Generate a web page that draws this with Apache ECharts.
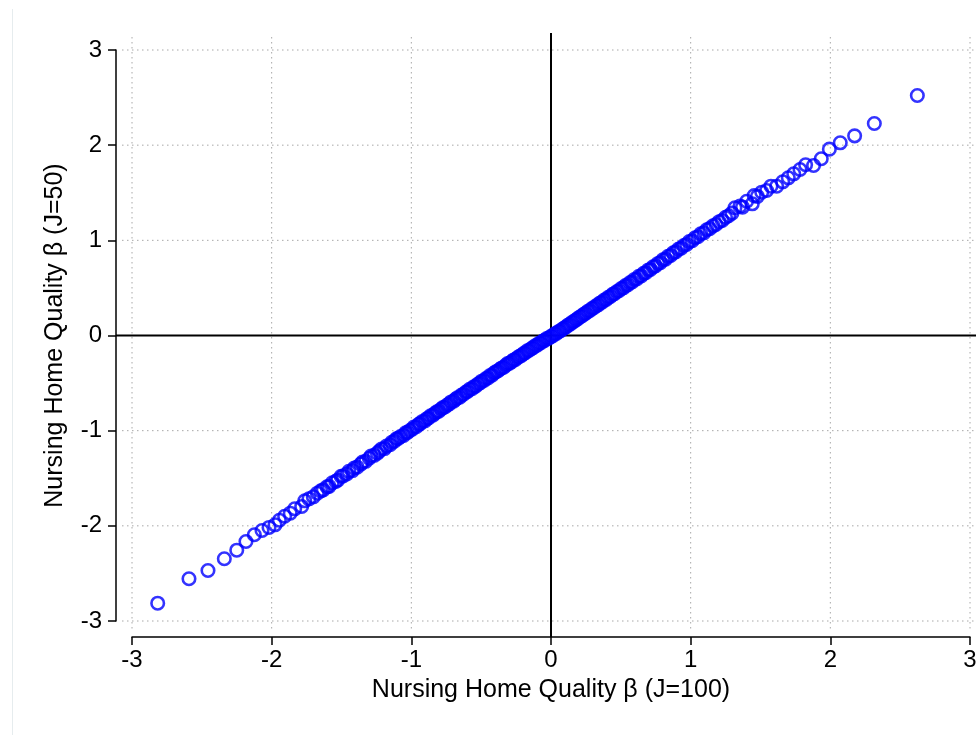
<!DOCTYPE html>
<html>
<head>
<meta charset="utf-8">
<script src="https://cdn.jsdelivr.net/npm/echarts@6/dist/echarts.min.js"></script>
<style>
  html, body { margin: 0; padding: 0; background: #fff; }
  #chart { width: 976px; height: 735px; }
</style>
</head>
<body>
<div id="chart"></div>
<script>
// tick values, same on both axes
var xTicks = [-3, -2, -1, 0, 1, 2, 3]
var yTicks = [-3, -2, -1, 0, 1, 2, 3]

var xTitle = 'Nursing Home Quality β (J=100)'
var yTitle = 'Nursing Home Quality β (J=50)'

// beta estimates: J=100 (x) against J=50 (y)
var lowerTail = [
  [-2.816, -2.813], [-2.592, -2.556], [-2.456, -2.469], [-2.339, -2.346],
  [-2.250, -2.256], [-2.184, -2.165], [-2.124, -2.094], [-2.069, -2.049],
  [-2.019, -2.017], [-1.976, -1.989], [-1.945, -1.941], [-1.907, -1.899],
  [-1.867, -1.867], [-1.835, -1.821], [-1.785, -1.797], [-1.763, -1.737],
  [-1.733, -1.716], [-1.702, -1.695], [-1.673, -1.657]
]

var middle = [
  [-1.648, -1.632], [-1.631, -1.622], [-1.604, -1.590], [-1.589, -1.585],
  [-1.566, -1.548], [-1.541, -1.533], [-1.527, -1.519], [-1.503, -1.480],
  [-1.488, -1.476], [-1.462, -1.455], [-1.447, -1.428], [-1.421, -1.419],
  [-1.409, -1.392], [-1.388, -1.383], [-1.362, -1.351], [-1.349, -1.331],
  [-1.327, -1.322], [-1.301, -1.290], [-1.289, -1.266], [-1.266, -1.259],
  [-1.243, -1.236], [-1.229, -1.215], [-1.214, -1.193], [-1.192, -1.188],
  [-1.178, -1.162], [-1.152, -1.148], [-1.139, -1.121], [-1.121, -1.110],
  [-1.107, -1.086], [-1.094, -1.081], [-1.078, -1.063], [-1.055, -1.049],
  [-1.041, -1.023], [-1.027, -1.018], [-1.011, -0.998], [-0.993, -0.985],
  [-0.982, -0.963], [-0.964, -0.959], [-0.948, -0.934], [-0.937, -0.926],
  [-0.921, -0.903], [-0.903, -0.897], [-0.889, -0.874], [-0.876, -0.866],
  [-0.862, -0.843], [-0.845, -0.836], [-0.830, -0.817], [-0.818, -0.801],
  [-0.803, -0.795], [-0.786, -0.772], [-0.774, -0.757], [-0.759, -0.751],
  [-0.744, -0.731], [-0.728, -0.719], [-0.716, -0.698], [-0.697, -0.690],
  [-0.684, -0.671], [-0.671, -0.655], [-0.653, -0.648], [-0.641, -0.626],
  [-0.626, -0.617], [-0.609, -0.594], [-0.597, -0.588], [-0.583, -0.566],
  [-0.565, -0.559], [-0.552, -0.538], [-0.539, -0.532], [-0.522, -0.509],
  [-0.508, -0.499], [-0.497, -0.480], [-0.479, -0.473], [-0.466, -0.452],
  [-0.451, -0.445], [-0.437, -0.421], [-0.422, -0.418], [-0.408, -0.394],
  [-0.396, -0.382], [-0.381, -0.373], [-0.366, -0.355], [-0.353, -0.341],
  [-0.338, -0.333], [-0.322, -0.312], [-0.311, -0.296], [-0.296, -0.290],
  [-0.281, -0.275], [-0.268, -0.257], [-0.254, -0.251], [-0.239, -0.231],
  [-0.226, -0.219], [-0.211, -0.208], [-0.197, -0.190], [-0.183, -0.181],
  [-0.170, -0.162], [-0.156, -0.155], [-0.141, -0.138], [-0.128, -0.127],
  [-0.114, -0.109], [-0.099, -0.101], [-0.086, -0.083], [-0.072, -0.076],
  [-0.058, -0.058], [-0.045, -0.051], [-0.031, -0.033], [-0.016, -0.027],
  [-0.003, -0.011], [0.011, -0.004], [0.024, 0.014], [0.039, 0.022],
  [0.052, 0.040], [0.066, 0.049], [0.081, 0.066], [0.093, 0.078],
  [0.108, 0.091], [0.122, 0.109], [0.137, 0.118], [0.150, 0.137],
  [0.164, 0.148], [0.179, 0.164], [0.192, 0.178], [0.207, 0.195],
  [0.221, 0.206], [0.236, 0.224], [0.249, 0.235], [0.264, 0.254],
  [0.279, 0.263], [0.293, 0.283], [0.307, 0.292], [0.322, 0.311],
  [0.338, 0.322], [0.351, 0.342], [0.366, 0.351], [0.381, 0.372],
  [0.396, 0.380], [0.410, 0.401], [0.426, 0.410], [0.441, 0.432],
  [0.455, 0.440], [0.472, 0.462], [0.487, 0.471], [0.502, 0.493],
  [0.518, 0.501], [0.533, 0.524], [0.549, 0.532], [0.566, 0.556],
  [0.581, 0.562], [0.597, 0.589], [0.614, 0.594], [0.629, 0.621],
  [0.646, 0.626], [0.663, 0.653], [0.679, 0.660], [0.697, 0.689],
  [0.712, 0.694], [0.731, 0.722], [0.748, 0.730], [0.766, 0.757],
  [0.783, 0.766], [0.801, 0.795], [0.820, 0.803], [0.838, 0.832],
  [0.857, 0.841], [0.875, 0.869], [0.893, 0.879], [0.913, 0.908],
  [0.932, 0.918], [0.951, 0.946], [0.971, 0.957], [0.990, 0.987],
  [1.011, 0.996], [1.031, 1.027], [1.052, 1.038], [1.072, 1.069],
  [1.094, 1.079], [1.115, 1.111], [1.136, 1.123], [1.160, 1.152],
  [1.181, 1.166], [1.204, 1.196], [1.226, 1.209], [1.250, 1.241],
  [1.272, 1.258], [1.296, 1.286], [1.317, 1.342], [1.353, 1.359],
  [1.371, 1.349], [1.401, 1.411], [1.441, 1.384], [1.455, 1.470],
  [1.478, 1.462]
]

var upperTail = [
  [1.509, 1.506], [1.544, 1.524], [1.575, 1.569], [1.616, 1.569],
  [1.659, 1.615], [1.699, 1.657], [1.738, 1.699], [1.783, 1.744],
  [1.823, 1.794], [1.880, 1.786], [1.935, 1.857], [1.993, 1.958],
  [2.071, 2.025], [2.174, 2.098], [2.315, 2.228], [2.623, 2.522]
]

var points = lowerTail.concat(middle, upperTail)

var chart = echarts.init(document.getElementById('chart'))
var fontFamily = '"Liberation Sans", Arial, sans-serif'

chart.setOption({
  animation: false,
  backgroundColor: '#fff',
  textStyle: { fontFamily: fontFamily },
  grid: { left: 132, right: 6, top: 50, bottom: 114, outerBoundsMode: 'none' },
  xAxis: {
    type: 'value',
    min: xTicks[0],
    max: xTicks[xTicks.length - 1],
    interval: 1,
    offset: 16,
    name: xTitle,
    nameLocation: 'middle',
    nameGap: 41,
    nameTextStyle: { fontSize: 25, color: '#000', fontFamily: fontFamily },
    axisLine: { onZero: false, lineStyle: { color: '#000', width: 1.5 } },
    axisTick: { length: 8, lineStyle: { color: '#000', width: 1.5 } },
    axisLabel: { fontSize: 24, color: '#000', margin: 11, fontFamily: fontFamily },
    splitLine: { show: false }
  },
  yAxis: {
    type: 'value',
    min: yTicks[0],
    max: yTicks[yTicks.length - 1],
    interval: 1,
    offset: 16,
    name: yTitle,
    nameLocation: 'middle',
    nameGap: 48,
    nameTextStyle: { fontSize: 25, color: '#000', fontFamily: fontFamily },
    axisLine: { onZero: false, lineStyle: { color: '#000', width: 1.5 } },
    axisTick: { length: 8, lineStyle: { color: '#000', width: 1.5 } },
    axisLabel: { fontSize: 24, color: '#000', margin: 14, fontFamily: fontFamily },
    splitLine: { show: false }
  },
  series: [
    {
      type: 'scatter',
      data: points,
      symbol: 'circle',
      symbolSize: 12.5,
      z: 5,
      itemStyle: {
        color: 'rgba(0,0,0,0)',
        borderColor: '#0000ff',
        borderWidth: 2.6
      }
    }
  ]
})

// dotted grid, zero lines and the outer frame line, placed through the axes
function drawGuides() {
  var lo = chart.convertToPixel({ gridIndex: 0 }, [xTicks[0], yTicks[0]])
  var hi = chart.convertToPixel({ gridIndex: 0 }, [xTicks[xTicks.length - 1], yTicks[yTicks.length - 1]])
  var zero = chart.convertToPixel({ gridIndex: 0 }, [0, 0])
  var els = []
  var dotted = { stroke: '#a8a8a8', lineWidth: 1, lineDash: [1.5, 3.5] }

  xTicks.forEach(function (v) {
    if (v === 0) return
    var p = chart.convertToPixel({ gridIndex: 0 }, [v, 0])
    els.push({ type: 'line', z: 0, shape: { x1: p[0], y1: hi[1] - 13, x2: p[0], y2: lo[1] + 9 }, style: dotted, silent: true })
  })
  yTicks.forEach(function (v) {
    if (v === 0) return
    var p = chart.convertToPixel({ gridIndex: 0 }, [0, v])
    els.push({ type: 'line', z: 0, shape: { x1: lo[0] - 10, y1: p[1], x2: 976, y2: p[1] }, style: dotted, silent: true })
  })
  // zero reference lines
  els.push({ type: 'line', z: 1, shape: { x1: zero[0], y1: hi[1] - 17, x2: zero[0], y2: lo[1] + 16 }, style: { stroke: '#000', lineWidth: 2 }, silent: true })
  els.push({ type: 'line', z: 1, shape: { x1: lo[0] - 16, y1: zero[1], x2: 976, y2: zero[1] }, style: { stroke: '#000', lineWidth: 2 }, silent: true })
  // faint frame edge on the left
  els.push({ type: 'line', z: 0, shape: { x1: 12.5, y1: 9, x2: 12.5, y2: 735 }, style: { stroke: '#e6ecee', lineWidth: 1 }, silent: true })

  chart.setOption({ graphic: els })
}

drawGuides()
</script>
</body>
</html>
